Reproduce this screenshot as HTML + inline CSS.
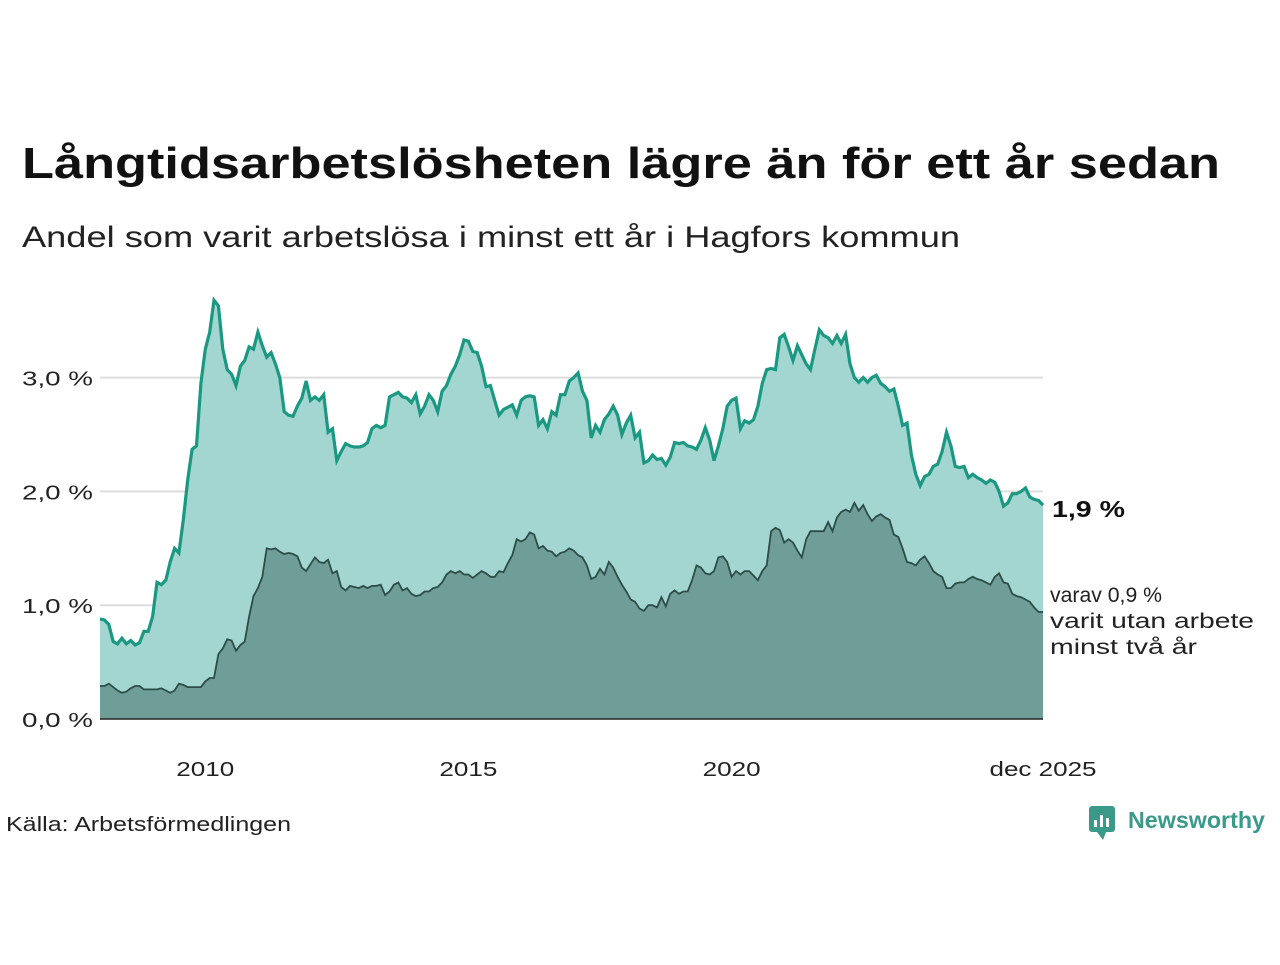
<!DOCTYPE html>
<html><head><meta charset="utf-8"><style>
body{margin:0;width:1280px;height:960px;background:#fff;font-family:"Liberation Sans","DejaVu Sans",sans-serif;overflow:hidden}
</style></head><body>
<svg width="1280" height="960" id="c">
<text x="22" y="178" font-size="44" font-weight="bold" fill="#111" textLength="1198" lengthAdjust="spacingAndGlyphs">Långtidsarbetslösheten lägre än för ett år sedan</text>
<text x="22" y="247" font-size="30" fill="#222" textLength="938" lengthAdjust="spacingAndGlyphs">Andel som varit arbetslösa i minst ett år i Hagfors kommun</text>
<g id="grid"></g><g id="marks"></g><g id="axes"></g>
<text x="1052" y="517" font-size="23" font-weight="bold" fill="#111" textLength="73" lengthAdjust="spacingAndGlyphs">1,9 %</text>
<text font-size="21" fill="#222"><tspan x="1050" y="602" textLength="112" lengthAdjust="spacingAndGlyphs">varav 0,9 %</tspan><tspan x="1050" y="628" textLength="204" lengthAdjust="spacingAndGlyphs">varit utan arbete</tspan><tspan x="1050" y="654" textLength="147" lengthAdjust="spacingAndGlyphs">minst två år</tspan></text>
<text x="6" y="831" font-size="20" fill="#222" textLength="285" lengthAdjust="spacingAndGlyphs">Källa: Arbetsförmedlingen</text>
<g>
<rect x="1089" y="806" width="26" height="26" rx="3" fill="#3a9a8a"/><path d="M1097 832 L1103 840 L1106 832Z" fill="#3a9a8a"/>
<rect x="1094" y="820" width="3" height="7" fill="#fff"/><rect x="1100" y="815" width="3" height="12" fill="#fff"/><rect x="1106" y="818" width="3" height="9" fill="#fff"/>
<text x="1128" y="828" font-size="23" font-weight="bold" fill="#3a9a8a" textLength="137" lengthAdjust="spacingAndGlyphs">Newsworthy</text></g>
</svg>
<script>
const years=[2010,2015,2020];
const yTicks=[0,1,2,3];
const longTerm=[0.88,0.87,0.83,0.68,0.66,0.71,0.66,0.69,0.65,0.67,0.77,0.77,
0.9,1.2,1.18,1.22,1.38,1.5,1.46,1.75,2.1,2.37,2.4,2.95,
3.25,3.4,3.68,3.63,3.25,3.07,3.03,2.93,3.1,3.15,3.27,3.25,
3.4,3.28,3.18,3.22,3.12,3.0,2.7,2.67,2.66,2.75,2.82,2.97,
2.8,2.83,2.8,2.85,2.52,2.55,2.27,2.35,2.42,2.4,2.39,2.39,
2.4,2.43,2.55,2.58,2.56,2.58,2.83,2.85,2.87,2.83,2.82,2.78,
2.85,2.68,2.75,2.85,2.8,2.7,2.88,2.93,3.03,3.1,3.2,3.33,
3.32,3.23,3.22,3.1,2.92,2.93,2.8,2.67,2.72,2.74,2.76,2.67,
2.8,2.83,2.84,2.83,2.58,2.63,2.55,2.7,2.67,2.85,2.85,2.97,
3.0,3.04,2.88,2.8,2.47,2.58,2.52,2.63,2.68,2.75,2.67,2.5,
2.6,2.67,2.47,2.52,2.25,2.27,2.32,2.28,2.29,2.23,2.3,2.43,
2.42,2.43,2.4,2.39,2.37,2.45,2.56,2.45,2.27,2.4,2.55,2.75,
2.8,2.82,2.55,2.62,2.6,2.63,2.75,2.95,3.07,3.08,3.07,3.35,
3.38,3.27,3.15,3.28,3.2,3.12,3.07,3.25,3.42,3.37,3.35,3.3,
3.37,3.3,3.38,3.12,3.0,2.96,3.0,2.96,3.0,3.02,2.95,2.92,
2.88,2.9,2.75,2.58,2.6,2.32,2.15,2.05,2.13,2.15,2.22,2.24,
2.35,2.52,2.4,2.22,2.21,2.22,2.12,2.15,2.12,2.1,2.07,2.1,
2.08,2.0,1.87,1.9,1.98,1.98,2.0,2.03,1.95,1.93,1.92,1.88];
const twoYear=[0.29,0.29,0.31,0.28,0.25,0.23,0.24,0.27,0.29,0.29,0.26,0.26,
0.26,0.26,0.27,0.25,0.23,0.25,0.31,0.3,0.28,0.28,0.28,0.28,
0.33,0.36,0.36,0.57,0.62,0.7,0.69,0.6,0.65,0.68,0.9,1.08,
1.15,1.25,1.5,1.49,1.5,1.47,1.45,1.46,1.45,1.43,1.33,1.3,
1.36,1.42,1.38,1.37,1.4,1.28,1.3,1.16,1.13,1.17,1.16,1.15,
1.17,1.15,1.17,1.17,1.18,1.09,1.12,1.18,1.2,1.13,1.15,1.1,
1.08,1.09,1.12,1.12,1.15,1.16,1.2,1.27,1.3,1.28,1.3,1.27,
1.27,1.24,1.27,1.3,1.28,1.25,1.25,1.3,1.29,1.37,1.44,1.58,
1.56,1.58,1.64,1.62,1.5,1.52,1.48,1.47,1.43,1.46,1.47,1.5,
1.48,1.44,1.42,1.35,1.23,1.25,1.32,1.27,1.38,1.33,1.25,1.18,
1.12,1.05,1.03,0.97,0.95,1.0,1.0,0.98,1.07,0.99,1.1,1.13,
1.1,1.12,1.12,1.22,1.35,1.33,1.28,1.27,1.3,1.42,1.43,1.38,
1.25,1.3,1.27,1.3,1.3,1.26,1.22,1.3,1.35,1.65,1.68,1.66,
1.55,1.58,1.55,1.48,1.42,1.58,1.65,1.65,1.65,1.65,1.73,1.65,
1.77,1.82,1.84,1.82,1.9,1.83,1.88,1.8,1.74,1.78,1.8,1.77,
1.75,1.62,1.6,1.5,1.38,1.37,1.35,1.4,1.43,1.37,1.3,1.27,
1.25,1.15,1.15,1.19,1.2,1.2,1.23,1.25,1.23,1.22,1.2,1.18,
1.25,1.28,1.2,1.19,1.1,1.08,1.07,1.05,1.03,0.98,0.94,0.94];
const startYear=2008;
const NS="http://www.w3.org/2000/svg";
const x0=100,x1=1043,n=longTerm.length;
const xi=i=>x0+(x1-x0)*i/(n-1);
const xYear=y=>xi((y-startYear)*12);
const yv=v=>719-v*113.8;
function mk(tag,attrs,parent){const e=document.createElementNS(NS,tag);for(const k in attrs)e.setAttribute(k,attrs[k]);document.getElementById(parent).appendChild(e);return e;}
yTicks.forEach(t=>{
 if(t>0){const l=mk('line',{x1:x0,x2:x1,y1:yv(t),y2:yv(t),stroke:'#ddd','stroke-width':2},'grid');
 
 }
 const tx=mk('text',{x:93,y:yv(t)+8,'font-size':20,'text-anchor':'end',fill:'#222',textLength:71,lengthAdjust:'spacingAndGlyphs'},'axes');
 tx.textContent=t.toFixed(1).replace('.',',')+' %';
 
 
});
years.forEach(y=>{const tx=mk('text',{x:xYear(y),y:776,'font-size':20,'text-anchor':'middle',fill:'#222',textLength:58,lengthAdjust:'spacingAndGlyphs'},'axes');tx.textContent=y;
 
 });
const lt=mk('text',{x:x1,y:776,'font-size':20,'text-anchor':'middle',fill:'#222',textLength:107,lengthAdjust:'spacingAndGlyphs'},'axes');lt.textContent='dec 2025';


function line(arr){return arr.map((v,i)=>(i?'L':'M')+xi(i).toFixed(1)+' '+yv(v).toFixed(1)).join(' ');}
function area(arr){return line(arr)+` L${x1} ${yv(0)} L${x0} ${yv(0)} Z`;}
let e;
e=mk('path',{d:area(longTerm),fill:'#a3d6d1'},'marks');


e=mk('path',{d:area(twoYear),fill:'#6f9e98'},'marks');


e=mk('path',{d:line(twoYear),fill:'none',stroke:'#2d4c47','stroke-width':1.8},'marks');


e=mk('path',{d:line(longTerm),fill:'none',stroke:'#1a9882','stroke-width':3.2},'marks');


e=mk('line',{x1:x0,x2:x1,y1:yv(0),y2:yv(0),stroke:'#222','stroke-width':1.5},'marks');


</script>
</body></html>
